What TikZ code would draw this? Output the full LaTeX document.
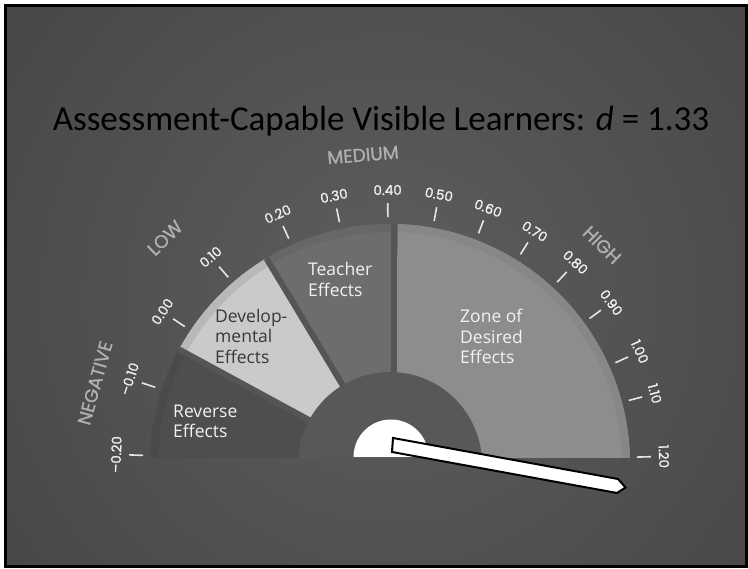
\documentclass[tikz,border=0pt]{standalone}
\usepackage{fontspec}
\setmainfont{Carlito}
\newfontfamily\popfont[FakeBold=1.2]{Poppins}
\newfontfamily\headfont[FakeBold=0.9]{Poppins}
\newfontfamily\segfont{Open Sans}
\definecolor{bgin}{HTML}{5E5E5E}
\definecolor{bgout}{HTML}{333333}
\definecolor{revcol}{HTML}{4E4E4E}
\definecolor{revrim}{HTML}{4A4A4A}
\definecolor{devcol}{HTML}{CACACA}
\definecolor{devrim}{HTML}{B8B8B8}
\definecolor{teachcol}{HTML}{6D6D6D}
\definecolor{teachrim}{HTML}{676767}
\definecolor{zonecol}{HTML}{8D8D8D}
\definecolor{zonerim}{HTML}{878787}
\definecolor{hubcol}{HTML}{585858}
\definecolor{gapcol}{HTML}{555555}
\definecolor{tickcol}{HTML}{E6E6E6}
\definecolor{labcol}{HTML}{F2F2F2}
\definecolor{headcol}{HTML}{B0B0B0}
\definecolor{darktext}{HTML}{383838}
\begin{document}
\begin{tikzpicture}[x=1pt,y=1pt,
  tickline/.style={line width=1.6pt, tickcol},
  ticklab/.style={font=\popfont\fontsize{13.5}{13.5}\selectfont, text=labcol, inner sep=0pt},
  headlab/.style={font=\headfont\fontsize{18.5}{18.5}\selectfont, text=headcol, inner sep=0pt},
  seglab/.style={font=\segfont\fontsize{17.5}{17.5}\selectfont, anchor=base west, inner sep=0pt},
  gapline/.style={gapcol, line width=6pt},
  rimline/.style={line width=8pt},
]
\useasboundingbox (0,0) rectangle (748,569);
\fill[white] (0,0) rectangle (748,569);
% slide background
\begin{scope}
  \clip (5,2) rectangle (746,563);
  \shade[inner color=bgin, outer color=bgout] (390,270) circle (900);
\end{scope}
\draw[black, line width=3pt] (5,2) rectangle (746,563);

% title
\node[font=\fontsize{35}{35}\selectfont, anchor=base, inner sep=0pt] (title) at (381,438)
  {Assessment-Capable Visible Learners: \textit{d} = 1.33};

\coordinate (C) at (390,105);

% gauge segments
\begin{scope}
  \clip (0,111) rectangle (748,569);
  \fill[revcol] (C) -- ++(151.5:240) arc[start angle=151.5, end angle=190, radius=240] -- cycle;
  \fill[devcol] (C) -- ++(121:240) arc[start angle=121, end angle=151.5, radius=240] -- cycle;
  \fill[teachcol] (C) -- ++(88:240) arc[start angle=88, end angle=121, radius=240] -- cycle;
  \fill[zonecol] (C) -- ++(-10:240) arc[start angle=-10, end angle=88, radius=240] -- cycle;
  \draw[rimline, revrim] ([shift={(151.5:236)}]C) arc[start angle=151.5, end angle=190, radius=236];
  \draw[rimline, devrim] ([shift={(121:236)}]C) arc[start angle=121, end angle=151.5, radius=236];
  \draw[rimline, teachrim] ([shift={(88:236)}]C) arc[start angle=88, end angle=121, radius=236];
  \draw[rimline, zonerim] ([shift={(-10:236)}]C) arc[start angle=-10, end angle=88, radius=236];
  \draw[gapline] (C) -- ++(151.5:240);
  \draw[gapline] (C) -- ++(121:240);
  \draw[gapline] (394,105) -- (394,344.9);
  \fill[hubcol] (C) circle (92);
\end{scope}

% white hub
\fill[white] (353.5,112) arc[start angle=180, end angle=0, radius=37.5] -- cycle;

% ticks and labels
\foreach \a/\t [count=\i] in {178/{–0.20}, 161.9/{–0.10}, 146.2/{0.00}, 130.9/{0.10}, 114.2/{0.20},
    101.8/{0.30}, 90.5/{0.40}, 79.7/{0.50}, 69/{0.60}, 58.1/{0.70}, 47.4/{0.80}, 36.1/{0.90},
    24.2/{1.00}, 14.9/{1.10}, 1.6/{1.20}} {
  \draw[tickline] ([shift={(\a:247)}]C) -- ([shift={(\a:261)}]C);
  \node[ticklab, rotate=\a-90] (t\i) at ([shift={(\a:274)}]C) {\t};
}

% zone headings
\node[headlab, rotate=74.5] (neg) at (95,186) {NEGATIVE};
\node[headlab, rotate=44.6] (low) at (165,331) {LOW};
\node[headlab, rotate=4.6] (med) at (363,414) {MEDIUM};
\node[headlab, rotate=-44.3] (high) at (602,324) {HIGH};

% segment labels
\node[seglab, text=labcol] (rev1) at (173,151) {Reverse};
\node[seglab, text=labcol] (rev2) at (173,131) {Effects};
\node[seglab, text=darktext] (dev1) at (215,246) {Develop-};
\node[seglab, text=darktext] (dev2) at (215,226) {mental};
\node[seglab, text=darktext] (dev3) at (215,205) {Effects};
\node[seglab, text=labcol] (tea1) at (308,293) {Teacher};
\node[seglab, text=labcol] (tea2) at (308,272) {Effects};
\node[seglab, text=labcol] (zon1) at (460,246) {Zone of};
\node[seglab, text=labcol] (zon2) at (460,225) {Desired};
\node[seglab, text=labcol] (zon3) at (460,205) {Effects};

% needle
\draw[black, line width=2pt, fill=white, line join=miter]
  (393,131) -- (618,90) -- (625.5,81.5) -- (617,76) -- (392,117) -- cycle;
\end{tikzpicture}
\end{document}
